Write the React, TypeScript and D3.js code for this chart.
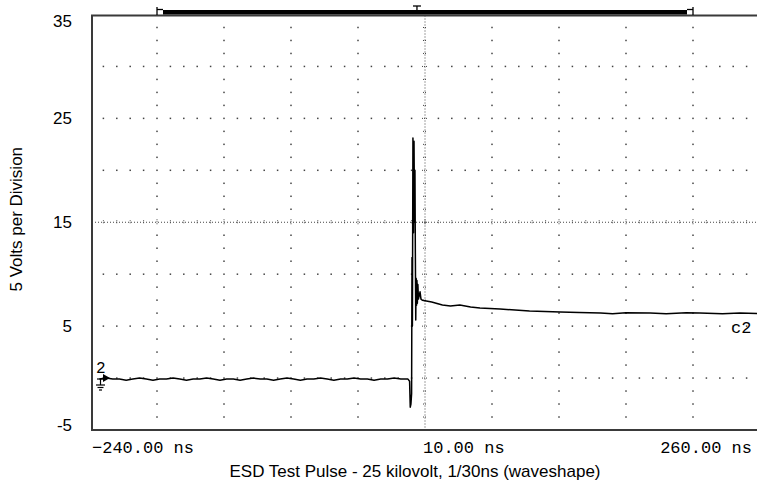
import React from "react";
import * as d3 from "d3";

// ---- data ----
const xTicks = [-240, 10, 260];
const xTickLabels = ["\u2212240.00 ns", "10.00 ns", "260.00 ns"];
const yTicks = [35, 25, 15, 5, -5];
const yTitle = "5 Volts per Division";
const xTitle = "ESD Test Pulse - 25 kilovolt, 1/30ns (waveshape)";

// time (ns)
const traceT = [
  -233, -228, -223, -218, -213, -208, -203, -198, -193, -188, -183, -178, -173, -168, -163,
  -158, -153, -148, -143, -138, -133, -128, -123, -118, -113, -108, -103, -98, -93, -88,
  -83, -78, -73, -68, -63, -58, -53, -48, -43, -38, -33, -28, -23, -18, -13, -8, -4, -2.7,
  -1.5, -1.0, -0.5, 0.0, 0.3, 0.6, 1.0, 1.4, 1.8, 2.2, 2.5, 2.8, 3.1, 3.4, 3.7, 4.0, 4.3,
  4.7, 5.1, 5.6, 6.3, 7.0, 8.0, 15, 23, 29, 36, 44, 51, 66, 88, 111, 125, 141, 150, 160,
  178, 190, 205, 215, 232, 245, 258, 262,
];
// volts
const traceV = [
  -0.1, 0.0, -0.1, -0.1, -0.2, -0.1, 0.0, -0.1, -0.2, -0.1, -0.1, 0.0, -0.1, -0.2, -0.1,
  -0.1, 0.0, -0.1, -0.2, -0.1, -0.1, -0.2, -0.1, 0.0, -0.1, -0.1, -0.2, -0.1, 0.0, -0.1,
  -0.2, -0.1, -0.1, 0.0, -0.1, -0.2, -0.1, -0.1, 0.0, -0.1, -0.1, -0.2, -0.1, -0.1, 0.0, -0.1, -0.1, -0.1,
  -0.3, -2.8, -2.5, -1.5, 11.6, 5.0, 23.1, 14.0, 22.8, 15.0, 20.0, 12.0, 5.6, 9.6, 7.0, 9.4, 7.2,
  9.0, 7.6, 7.9, 8.3, 7.6, 7.5, 7.32, 7.03, 6.94, 7.03, 6.84, 6.74, 6.65, 6.45, 6.36, 6.32, 6.26, 6.2, 6.28,
  6.26, 6.2, 6.28, 6.26, 6.2, 6.26, 6.22, 6.26,
];

const W = 757;
const H = 481;

export default function App() {
  const x = d3.scaleLinear().domain([-240, 260]).range([90, 760]);
  const y = d3.scaleLinear().domain([-5, 35]).range([430, 14.5]);

  const frameLeft = 92;
  const frameTop = 15.5;
  const frameBottom = 430;

  const divX = (x(260) - x(-240)) / 10;
  const divY = (y(-5) - y(35)) / 8;

  const majorXs = d3.range(1, 10).map((i) => x(-240) + i * divX);
  const majorYs = d3.range(1, 8).map((i) => y(35) + i * divY);
  const centerX = x(10);
  const centerY = y(15);

  const dots: JSX.Element[] = [];
  // dots along horizontal grid lines
  majorYs.forEach((gy, gi) => {
    if (gi === 3) return;
    for (let k = 1; k < 50; k++) {
      const px = x(-240) + (k * divX) / 5;
      if (px > W || Math.abs(px - centerX) < 1) continue;
      dots.push(<rect key={`h${gi}-${k}`} x={px - 0.75} y={gy - 0.75} width={1.5} height={1.5} fill="#444" />);
    }
  });
  // dots along vertical grid lines
  majorXs.forEach((gx, gi) => {
    if (gi === 4) return;
    for (let j = 1; j < 32; j++) {
      const py = y(35) + (j * divY) / 4;
      if (j % 4 === 0) continue;
      dots.push(<rect key={`v${gi}-${j}`} x={gx - 0.75} y={py - 0.75} width={1.5} height={1.5} fill="#444" />);
    }
  });

  const centerTicks: JSX.Element[] = [];
  for (let j = 1; j < 32; j++) {
    const py = y(35) + (j * divY) / 4;
    const len = j % 4 === 0 ? 3 : 2;
    centerTicks.push(
      <line key={`cv${j}`} x1={centerX - len} x2={centerX + len} y1={py} y2={py} stroke="#444" strokeWidth={1} strokeDasharray="1,1" />
    );
  }
  for (let k = 1; k < 50; k++) {
    const px = x(-240) + (k * divX) / 5;
    if (px > W) continue;
    const len = k % 5 === 0 ? 3 : 2;
    centerTicks.push(
      <line key={`ch${k}`} x1={px} x2={px} y1={centerY - len} y2={centerY + len} stroke="#444" strokeWidth={1} strokeDasharray="1,1" />
    );
  }

  const line = d3
    .line<number>()
    .x((_, i) => x(traceT[i]))
    .y((v) => y(v));
  const path = line(traceV) || "";

  const barLeft = majorXs[0];
  const barRight = majorXs[8];
  const trigX = x(4);

  return (
    <svg
      width={W}
      height={H}
      style={{ position: "absolute", left: 0, top: 0, background: "#fff" }}
      fontFamily="'Liberation Sans', Arial, sans-serif"
    >
      <rect x={0} y={0} width={W} height={H} fill="#fff" />
      {/* grid */}
      <g>{dots}</g>
      <line x1={centerX} x2={centerX} y1={frameTop} y2={frameBottom} stroke="#444" strokeWidth={1} strokeDasharray="1,2" />
      <line x1={frameLeft} x2={W} y1={centerY} y2={centerY} stroke="#444" strokeWidth={1} strokeDasharray="1,2" />
      <g>{centerTicks}</g>

      {/* frame */}
      <path d={`M${W},${frameTop}H${frameLeft}V${frameBottom}H${W}`} fill="none" stroke="#3a3a3a" strokeWidth={2} />

      {/* record bar */}
      <g stroke="#000" fill="none" strokeWidth={1.3}>
        <line x1={barLeft} x2={barLeft} y1={7} y2={15} />
        <line x1={barLeft} x2={barLeft + 6} y1={9.5} y2={9.5} />
        <line x1={barRight} x2={barRight} y1={7} y2={15} />
        <line x1={barRight - 6} x2={barRight} y1={9.5} y2={9.5} />
        <line x1={trigX - 4} x2={trigX + 4} y1={6} y2={6} />
        <line x1={trigX} x2={trigX} y1={6} y2={10} />
      </g>
      <rect x={barLeft + 6} y={10} width={barRight - barLeft - 12} height={4.5} fill="#000" />

      {/* trace */}
      <path d={path} fill="none" stroke="#000" strokeWidth={1.5} strokeLinejoin="round" />

      {/* channel marker */}
      <text x={96} y={373} fontFamily="'Liberation Mono', monospace" fontSize={16}>2</text>
      <path d="M103,374 L110,378 L103,382 Z" fill="#000" />
      <g stroke="#000" strokeWidth={1.2}>
        <line x1={97} x2={104} y1={379} y2={379} />
        <line x1={100.5} x2={100.5} y1={379} y2={385} />
        <line x1={96} x2={105} y1={385} y2={385} />
        <line x1={97.5} x2={103.5} y1={387.5} y2={387.5} />
        <line x1={99} x2={102} y1={390} y2={390} />
      </g>
      <text x={731} y={333} fontFamily="'Liberation Mono', monospace" fontSize={17}>c2</text>

      {/* y tick labels */}
      {yTicks.map((v) => (
        <text key={v} x={72} y={Math.min(Math.max(y(v) + 6, 27), 431)} textAnchor="end" fontSize={17}>
          {v}
        </text>
      ))}

      {/* x tick labels */}
      {xTicks.map((t, i) => (
        <text
          key={t}
          x={i === 0 ? x(t) + 2 : i === 1 ? x(t) - 2 : x(t) - 8}
          y={453}
          textAnchor={i === 2 ? "end" : "start"}
          fontFamily="'Liberation Mono', monospace"
          fontSize={17}
        >
          {xTickLabels[i]}
        </text>
      ))}

      {/* titles */}
      <text x={415} y={477} textAnchor="middle" fontSize={17}>{xTitle}</text>
      <text transform={`translate(22,${centerY - 3}) rotate(-90)`} textAnchor="middle" fontSize={17}>
        {yTitle}
      </text>
    </svg>
  );
}
